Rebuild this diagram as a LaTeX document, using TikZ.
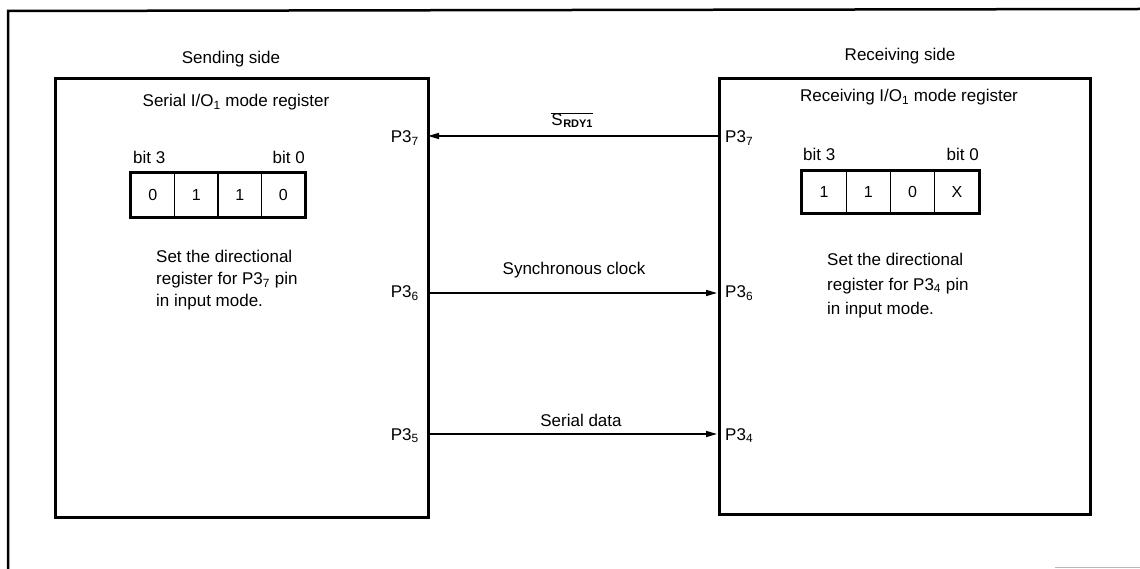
\documentclass[tikz,border=0pt]{standalone}
\usepackage{fontspec}
\setmainfont{Liberation Sans}
\usetikzlibrary{arrows.meta}
\begin{document}
\begin{tikzpicture}[x=1pt,y=-1pt,
  lbl/.style={font=\fontsize{17}{20}\selectfont, inner sep=0pt},
  bigbox/.style={draw, line width=2.6pt, inner sep=0pt, anchor=north west},
  cell/.style={draw, line width=1.2pt, inner sep=0pt, font=\fontsize{16}{19}\selectfont},
  regframe/.style={draw, line width=2.6pt},
  sig/.style={line width=1.5pt, -{Triangle[length=11pt,width=6pt]}}]
\useasboundingbox (0,0) rectangle (1140,569);

% outer frame
\draw[line width=2.5pt] (8,569) -- (8,11) -- (1140,9);
\draw[gray!55, line width=1pt] (1055,567) -- (1140,567);

% side titles
\node[lbl, anchor=base] (tsend) at (231,64) {Sending side};
\node[lbl, anchor=base] (trecv) at (900,61) {Receiving side};

% boxes
\node[bigbox, minimum width=373pt, minimum height=439pt] (lbox) at (54,77) {};
\node[bigbox, minimum width=371pt, minimum height=436pt] (rbox) at (718,77) {};

% register titles
\node[lbl, anchor=base] (lreg) at (236,107) {Serial I/O\textsubscript{1} mode register};
\node[lbl, anchor=base] (rreg) at (909,102) {Receiving I/O\textsubscript{1} mode register};

% left register
\node[lbl, anchor=base west] (lb3) at (133,164) {bit 3};
\node[lbl, anchor=base east] (lb0) at (305,164) {bit 0};
\foreach \i/\v in {1/0,2/1,3/1,4/0}{
  \node[cell, minimum width=43.5pt, minimum height=44pt] (lc\i) at ({131+43.5*(\i-0.5)},195) {\v};
}
\draw[regframe] (lc1.north west) rectangle (lc4.south east);

% right register
\node[lbl, anchor=base west] (rb3) at (803,161) {bit 3};
\node[lbl, anchor=base east] (rb0) at (979,161) {bit 0};
\foreach \i/\v in {1/1,2/1,3/0,4/X}{
  \node[cell, minimum width=44.25pt, minimum height=42pt] (rc\i) at ({802+44.25*(\i-0.5)},192) {\v};
}
\draw[regframe] (rc1.north west) rectangle (rc4.south east);

% notes
\node[lbl, anchor=north west, align=left, font=\fontsize{17}{22}\selectfont] (lnote) at (156,250)
  {Set the directional\\register for P3\textsubscript{7} pin\\in input mode.};
\node[lbl, anchor=north west, align=left, font=\fontsize{17}{24.5}\selectfont] (rnote) at (827,253)
  {Set the directional\\register for P3\textsubscript{4} pin\\in input mode.};

% pin labels
\node[lbl, anchor=base east] (lp7) at (419,143) {P3\textsubscript{7}};
\node[lbl, anchor=base east] (lp6) at (419,298) {P3\textsubscript{6}};
\node[lbl, anchor=base east] (lp5) at (419,440) {P3\textsubscript{5}};
\node[lbl, anchor=base west] (rp7) at (725,143) {P3\textsubscript{7}};
\node[lbl, anchor=base west] (rp6) at (725,298) {P3\textsubscript{6}};
\node[lbl, anchor=base west] (rp4) at (725,440) {P3\textsubscript{4}};

% connector end points on box edges
\coordinate (l7) at (428,136);
\coordinate (r7) at (718,136);
\coordinate (l6) at (427,293);
\coordinate (r6) at (717,293);
\coordinate (l5) at (427,434);
\coordinate (r5) at (717,434);

\draw[sig] (r7) -- (l7);
\draw[sig] (l6) -- (r6);
\draw[sig] (l5) -- (r5);

% signal labels
\node[lbl, anchor=base] (srdy) at (572,126)
  {$\overline{\mbox{S\kern0.5pt\raisebox{-2pt}{\fontsize{11}{11}\selectfont\bfseries RDY1}}}$};
\node[lbl, anchor=base] (sclk) at (574,275) {Synchronous clock};
\node[lbl, anchor=base] (sdat) at (581,426) {Serial data};
\end{tikzpicture}
\end{document}
